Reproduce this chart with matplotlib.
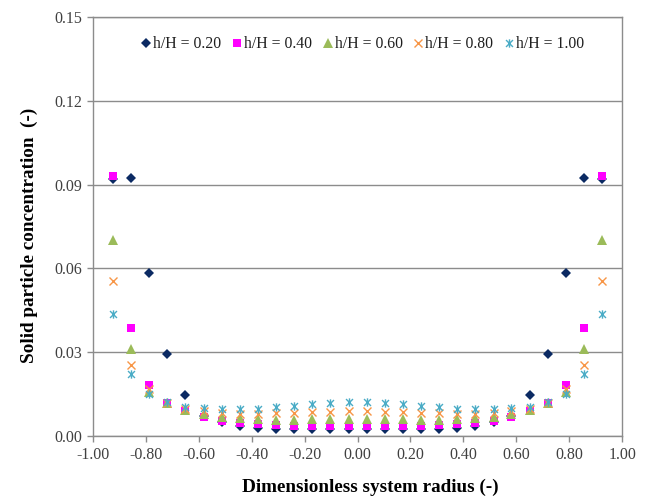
import numpy as np
import matplotlib
matplotlib.use('Agg')
import matplotlib.pyplot as plt
from matplotlib.path import Path

# radial positions (r/R) of the sampling points
radius = [-0.925, -0.856, -0.788, -0.719, -0.651, -0.582, -0.514, -0.445, -0.377, -0.308, -0.240, -0.171, -0.103, -0.034,
          0.034, 0.103, 0.171, 0.240, 0.308, 0.377, 0.445, 0.514, 0.582, 0.651, 0.719, 0.788, 0.856, 0.925]

# solid particle concentration at each height h/H
conc_020 = [0.0920, 0.0925, 0.0585, 0.0293, 0.0148, 0.0072, 0.0050, 0.0035, 0.0029, 0.0026, 0.0025, 0.0024, 0.0024, 0.0024,
            0.0024, 0.0024, 0.0024, 0.0025, 0.0026, 0.0029, 0.0035, 0.0050, 0.0072, 0.0146, 0.0293, 0.0585, 0.0925, 0.0920]
conc_040 = [0.0930, 0.0388, 0.0183, 0.0117, 0.0088, 0.0068, 0.0055, 0.0047, 0.0042, 0.0039, 0.0037, 0.0036, 0.0036, 0.0036,
            0.0036, 0.0036, 0.0036, 0.0037, 0.0039, 0.0042, 0.0047, 0.0055, 0.0068, 0.0088, 0.0117, 0.0183, 0.0388, 0.0930]
conc_060 = [0.0700, 0.0310, 0.0158, 0.0118, 0.0094, 0.0078, 0.0068, 0.0063, 0.0060, 0.0058, 0.0058, 0.0060, 0.0061, 0.0062,
            0.0062, 0.0061, 0.0060, 0.0058, 0.0058, 0.0060, 0.0063, 0.0068, 0.0078, 0.0094, 0.0118, 0.0158, 0.0310, 0.0700]
conc_080 = [0.0555, 0.0256, 0.0170, 0.0120, 0.0098, 0.0088, 0.0083, 0.0080, 0.0080, 0.0081, 0.0083, 0.0085, 0.0087, 0.0088,
            0.0088, 0.0087, 0.0085, 0.0083, 0.0081, 0.0080, 0.0080, 0.0083, 0.0088, 0.0098, 0.0120, 0.0170, 0.0256, 0.0555]
conc_100 = [0.0436, 0.0221, 0.0150, 0.0121, 0.0103, 0.0099, 0.0097, 0.0096, 0.0098, 0.0103, 0.0108, 0.0114, 0.0119, 0.0122,
            0.0122, 0.0119, 0.0114, 0.0108, 0.0103, 0.0098, 0.0096, 0.0097, 0.0099, 0.0103, 0.0121, 0.0150, 0.0221, 0.0436]

labels = ['h/H = 0.20', 'h/H = 0.40', 'h/H = 0.60', 'h/H = 0.80', 'h/H = 1.00']
xticks = [-1.0, -0.8, -0.6, -0.4, -0.2, 0.0, 0.2, 0.4, 0.6, 0.8, 1.0]
yticks = [0.00, 0.03, 0.06, 0.09, 0.12, 0.15]

# excel style star: an x with a vertical bar through it
star = Path([(-1, -1), (1, 1), (-1, 1), (1, -1), (0, -1.2), (0, 1.2)],
            [Path.MOVETO, Path.LINETO, Path.MOVETO, Path.LINETO, Path.MOVETO, Path.LINETO])

plt.rcParams['font.family'] = ['Liberation Serif', 'DejaVu Serif']

fig = plt.figure(figsize=(6.48, 5.01), dpi=100)
ax = fig.add_axes([0.1435, 0.1297, 0.8165, 0.8363])

series = [
    (conc_020, dict(marker='D', color='#0B2A63', markersize=4.6, markeredgewidth=0)),
    (conc_040, dict(marker='s', color='#FF00FF', markersize=6.2, markeredgewidth=0)),
    (conc_060, dict(marker='^', color='#9BBB59', markersize=6.5, markeredgewidth=0)),
    (conc_080, dict(marker='x', color='#F79646', markersize=6.0, markeredgewidth=1.0)),
    (conc_100, dict(marker=star, color='#4BACC6', markersize=6.0, markeredgewidth=1.0, fillstyle='none')),
]
for (vals, style), lab in zip(series, labels):
    ax.plot(radius, vals, linestyle='none', label=lab, **style)

ax.set_xlim(-1.0, 1.0)
ax.set_ylim(0.0, 0.15)
ax.set_xticks(xticks)
ax.set_yticks(yticks)
ax.set_xticklabels(['%.2f' % v for v in xticks])
ax.set_yticklabels(['%.2f' % v for v in yticks])
ax.tick_params(axis='both', direction='out', length=4, width=1, color='#8C8C8C',
               labelsize=11.5, labelcolor='#404040', pad=4)
ax.yaxis.grid(True, color='#8C8C8C', linewidth=1)
ax.set_axisbelow(True)
for s in ax.spines.values():
    s.set_color('#8C8C8C')
    s.set_linewidth(1)

ax.set_xlabel('Dimensionless system radius (-)', fontsize=13.8, fontweight='bold')
ax.xaxis.set_label_coords(0.524, -0.103)
ax.set_ylabel('Solid particle concentration  (-)', fontsize=13.8, fontweight='bold')
ax.yaxis.set_label_coords(-0.103, 0.48)

leg = ax.legend(loc='upper center', bbox_to_anchor=(0.51, 0.98), ncol=5, frameon=False,
                fontsize=11.3, handlelength=0.6, handletextpad=0.15, columnspacing=0.7,
                borderaxespad=0.3)
for t in leg.get_texts():
    t.set_color('#1F1F1F')

fig.savefig('out.png', dpi=100)
